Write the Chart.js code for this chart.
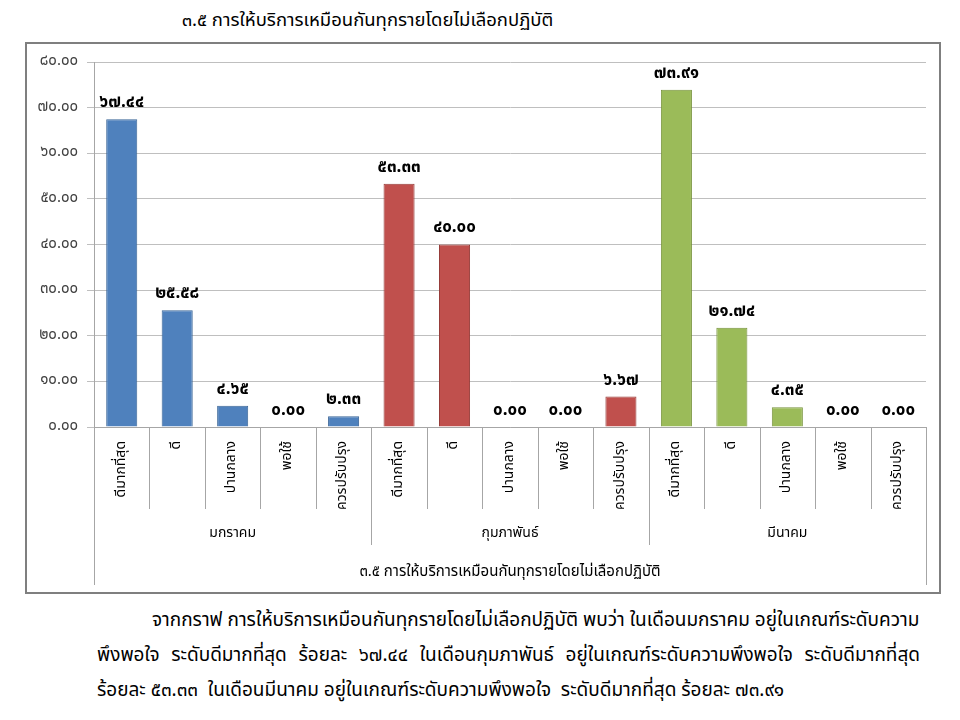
<!DOCTYPE html>
<html>
<head>
<meta charset="utf-8">
<script src="https://cdn.jsdelivr.net/npm/chart.js@4.4.0/dist/chart.umd.min.js"></script>
<style>
  body { margin: 0; background: #fff; font-family: Tahoma, "Noto Sans Thai", "Noto Sans", sans-serif; }
  #title { position: absolute; left: 120px; width: 495px; top: 6px; text-align: center; font-size: 18.5px; color: #000; }
  #box { position: absolute; left: 25px; top: 42px; width: 912px; height: 548px; border: 2px solid #7f7f7f; }
  #box canvas { position: absolute; left: 0; top: 0; }
  .para { position: absolute; font-size: 19px; color: #000; white-space: nowrap; }
  .just { white-space: normal; text-align: justify; text-align-last: justify; }
</style>
</head>
<body>
<div id="title">๓.๕ การให้บริการเหมือนกันทุกรายโดยไม่เลือกปฏิบัติ</div>
<div id="box"><canvas id="chart" width="912" height="548"></canvas></div>
<div class="para" style="left:152px; top:606px;">จากกราฟ การให้บริการเหมือนกันทุกรายโดยไม่เลือกปฏิบัติ พบว่า ในเดือนมกราคม อยู่ในเกณฑ์ระดับความ</div>
<div class="para just" style="left:97px; top:641px; width:823px;">พึงพอใจ ระดับดีมากที่สุด ร้อยละ ๖๗.๔๔ ในเดือนกุมภาพันธ์ อยู่ในเกณฑ์ระดับความพึงพอใจ ระดับดีมากที่สุด</div>
<div class="para" style="left:97px; top:676px;">ร้อยละ ๕๓.๓๓&nbsp; ในเดือนมีนาคม อยู่ในเกณฑ์ระดับความพึงพอใจ&nbsp; ระดับดีมากที่สุด ร้อยละ ๗๓.๙๑</div>

<script>
var levels = ["ดีมากที่สุด", "ดี", "ปานกลาง", "พอใช้", "ควรปรับปรุง"];
var months = ["มกราคม", "กุมภาพันธ์", "มีนาคม"];
var janValues = [67.44, 25.58, 4.65, 0.00, 2.33];
var febValues = [53.33, 40.00, 0.00, 0.00, 6.67];
var marValues = [73.91, 21.74, 4.35, 0.00, 0.00];
var yTicks = [0, 10, 20, 30, 40, 50, 60, 70, 80];
var axisTitle = "๓.๕ การให้บริการเหมือนกันทุกรายโดยไม่เลือกปฏิบัติ";

var fillColors = ["#4f81bd", "#c0504d", "#9bbb59"];
var lineColors = ["#3a6597", "#963c39", "#77933c"];

var thaiDigits = "๐๑๒๓๔๕๖๗๘๙";
function toThai(n)
{
    return n.toFixed(2).replace(/[0-9]/g, function(d) { return thaiDigits[+d]; });
}

var labels = [], values = [], bg = [], border = [];
[janValues, febValues, marValues].forEach(function(arr, m)
{
    arr.forEach(function(v, i)
    {
        labels.push(levels[i]);
        values.push(v);
        bg.push(fillColors[m]);
        border.push(lineColors[m]);
    });
});

var FONT = "Tahoma, 'Noto Sans Thai', 'Noto Sans', sans-serif";

// value labels above the bars
var valueLabels = {
    id: "valueLabels",
    afterDatasetsDraw: function(chart)
    {
        var ctx = chart.ctx;
        var meta = chart.getDatasetMeta(0);
        ctx.save();
        ctx.font = "bold 17px " + FONT;
        ctx.fillStyle = "#000";
        ctx.textAlign = "center";
        ctx.textBaseline = "bottom";
        meta.data.forEach(function(bar, i)
        {
            ctx.fillText(toThai(values[i]), bar.x, bar.y - 7);
        });
        ctx.restore();
    }
};

// grouped category axis: separators, month names, axis title
var groupAxis = {
    id: "groupAxis",
    afterDraw: function(chart)
    {
        var ctx = chart.ctx;
        var x = chart.scales.x;
        var y0 = chart.chartArea.bottom;
        var step = x.getPixelForValue(1) - x.getPixelForValue(0);
        ctx.save();
        ctx.strokeStyle = "#a6a6a6";
        ctx.lineWidth = 1;
        for (var i = 0; i <= labels.length; i++)
        {
            var px = Math.round(x.getPixelForValue(0) - step / 2 + i * step) + 0.5;
            var len = 82;
            if (i % levels.length === 0) len = 118;
            if (i === 0 || i === labels.length) len = 158;
            ctx.beginPath();
            ctx.moveTo(px, y0);
            ctx.lineTo(px, y0 + len);
            ctx.stroke();
        }
        ctx.font = "14px " + FONT;
        ctx.fillStyle = "#000";
        ctx.textAlign = "center";
        ctx.textBaseline = "middle";
        months.forEach(function(name, m)
        {
            ctx.fillText(name, x.getPixelForValue(m * levels.length + 2), y0 + 107);
        });
        ctx.font = "15px " + FONT;
        ctx.fillText(axisTitle, (x.left + x.right) / 2, y0 + 146);
        ctx.restore();
    }
};

new Chart(document.getElementById("chart"),
{
    type: "bar",
    data:
    {
        labels: labels,
        datasets:
        [{
            data: values,
            backgroundColor: bg,
            borderColor: border,
            borderWidth: 1,
            categoryPercentage: 1,
            barPercentage: 0.56
        }]
    },
    options:
    {
        responsive: false,
        animation: false,
        layout: { padding: { left: 0, right: 13, top: 18, bottom: 0 } },
        plugins: { legend: { display: false }, tooltip: { enabled: false } },
        scales:
        {
            x:
            {
                grid: { display: false },
                border: { display: true, color: "#a6a6a6" },
                ticks:
                {
                    minRotation: 90,
                    maxRotation: 90,
                    autoSkip: false,
                    padding: 6,
                    color: "#000",
                    font: { size: 14, family: FONT }
                },
                afterFit: function(scale) { scale.height = 165; }
            },
            y:
            {
                min: 0,
                max: 80,
                afterBuildTicks: function(scale) { scale.ticks = yTicks.map(function(v) { return { value: v }; }); },
                grid: { color: "#bfbfbf", tickLength: 7 },
                border: { display: true, color: "#a6a6a6" },
                ticks:
                {
                    padding: 9,
                    color: "#404040",
                    font: { size: 15, family: FONT },
                    callback: function(v) { return toThai(v); }
                },
                afterFit: function(scale) { scale.width = 67; }
            }
        }
    },
    plugins: [valueLabels, groupAxis]
});
</script>
</body>
</html>
